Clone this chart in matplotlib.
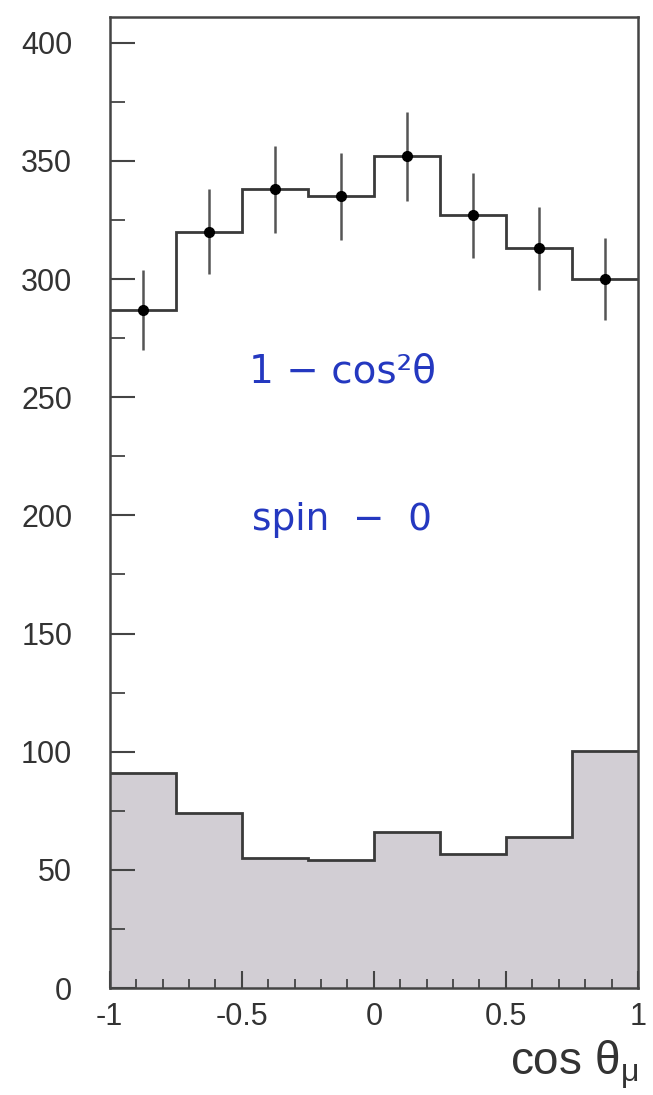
import matplotlib.pyplot as plt
import numpy as np
from matplotlib.ticker import MultipleLocator

# cos(theta_mu) distribution: data points, signal histogram, background
edges = np.array([-1.0, -0.75, -0.5, -0.25, 0.0, 0.25, 0.5, 0.75, 1.0])
signal = np.array([287, 320, 338, 335, 352, 327, 313, 300])
errors = np.array([17.0, 18.0, 18.4, 18.3, 18.8, 18.0, 17.7, 17.3])
background = np.array([91, 74, 55, 54, 66, 56.5, 64, 100.5])

centers = (edges[:-1] + edges[1:]) / 2

plt.rcParams['font.family'] = ['Liberation Sans', 'DejaVu Sans']

fig = plt.figure(figsize=(6.53, 10.95), dpi=100)
ax = fig.add_axes([0.168, 0.0977, 0.809, 0.887])

ax.stairs(background, edges, baseline=0, fill=True, color='#d2ced4')
ax.stairs(background, edges, baseline=None, color='#3a3a3a', linewidth=2)
ax.stairs(signal, edges, baseline=None, color='#3a3a3a', linewidth=2)
ax.errorbar(centers, signal, yerr=errors, fmt='o', color='black', markersize=7,
            ecolor='#555555', elinewidth=1.8, capsize=0)

# handwritten notes
ax.text(-0.12, 261, '1 − cos²θ', color='#2438c0', fontsize=28,
        ha='center', va='center', family=['DejaVu Sans'])
ax.text(-0.12, 198, 'spin  −  0', color='#2438c0', fontsize=27,
        ha='center', va='center', family=['DejaVu Sans'])

ax.set_xlim(-1, 1)
ax.set_ylim(0, 411)
ax.xaxis.set_major_locator(MultipleLocator(0.5))
ax.xaxis.set_minor_locator(MultipleLocator(0.1))
ax.yaxis.set_major_locator(MultipleLocator(50))
ax.yaxis.set_minor_locator(MultipleLocator(25))
ax.set_xticks([-1, -0.5, 0, 0.5, 1])
ax.set_xticklabels(['-1', '-0.5', '0', '0.5', '1'])

ax.tick_params(axis='y', which='major', direction='in', length=18, width=1.5,
               pad=27, labelsize=22, colors='#444444', labelcolor='#333333')
ax.tick_params(axis='y', which='minor', direction='in', length=11, width=1.3,
               colors='#444444')
ax.tick_params(axis='x', which='major', direction='in', length=12, width=1.5,
               pad=10, labelsize=22, colors='#444444', labelcolor='#333333')
ax.tick_params(axis='x', which='minor', direction='in', length=6.5, width=1.3,
               colors='#444444')

for s in ax.spines.values():
    s.set_linewidth(1.8)
    s.set_color('#444444')

ax.set_xlabel(r'cos $\mathregular{\theta_\mu}$', fontsize=33, color='#333333')
ax.xaxis.set_label_coords(1.0, -0.052)
ax.xaxis.label.set_horizontalalignment('right')

fig.savefig('out.png', dpi=100)
